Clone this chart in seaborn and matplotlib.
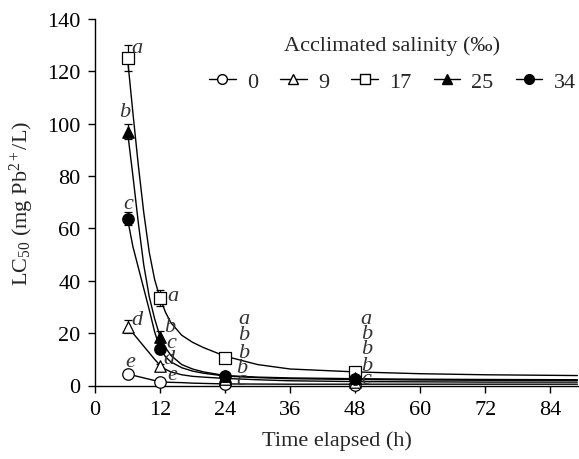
import numpy as np
import pandas as pd
import matplotlib
matplotlib.use("Agg")
import matplotlib.pyplot as plt
from matplotlib.lines import Line2D
import seaborn as sns

# ---------------- data ----------------
salinities = ["0", "9", "17", "25", "34"]
time_h = [6, 12, 24, 48]

lc50_0 = [4.4, 1.4, 0.6, 0.3]
lc50_9 = [22.5, 7.5, 2.5, 1.2]
lc50_17 = [125.0, 33.3, 10.4, 5.3]
lc50_25 = [97.0, 18.7, 3.6, 2.8]
lc50_34 = [63.7, 13.8, 3.5, 2.5]

err_0 = [0.3, 0.2, 0.1, 0.1]
err_9 = [2.5, 0.8, 0.3, 0.2]
err_17 = [5.0, 3.0, 0.8, 0.5]
err_25 = [3.0, 2.0, 0.5, 0.3]
err_34 = [2.5, 1.2, 0.4, 0.3]

# fitted curves
curve_x = [6, 7, 8, 9, 10, 11, 12, 13, 14, 16, 18, 20, 24, 30, 36, 48, 60, 72, 89]
curve_0 = [4.4, 3.9, 3.4, 2.9, 2.4, 1.9, 1.4, 1.3, 1.2, 1.1, 0.9, 0.8, 0.6, 0.55, 0.5, 0.5, 0.5, 0.5, 0.5]
curve_9 = [22.5, 20.0, 17.5, 15.0, 12.5, 10.0, 7.7, 6.2, 5.2, 4.1, 3.5, 3.2, 2.7, 2.2, 1.8, 1.5, 1.4, 1.3, 1.3]
curve_17 = [125.0, 104.0, 84.0, 66.0, 51.0, 40.5, 33.4, 28.0, 24.0, 19.2, 16.5, 14.5, 11.2, 8.0, 6.3, 5.2, 4.5, 4.1, 3.8]
curve_25 = [97.0, 80.0, 62.0, 46.0, 34.0, 25.5, 18.7, 14.5, 11.5, 8.0, 6.3, 5.2, 3.8, 3.2, 2.9, 2.6, 2.4, 2.3, 2.2]
curve_34 = [63.7, 53.0, 45.0, 37.0, 29.0, 20.5, 14.0, 11.0, 9.0, 6.8, 5.5, 4.7, 3.6, 3.0, 2.6, 2.3, 2.1, 2.0, 2.0]

# significance letters
letter_text = ["a", "b", "c", "d", "e",
               "a", "b", "c", "d", "e",
               "a", "b", "b", "b", "c",
               "a", "b", "b", "b", "c"]
letter_x = [7.7, 5.5, 6.1, 7.8, 6.5,
            14.3, 13.8, 14.0, 13.7, 14.2,
            27.4, 27.4, 27.4, 27.0, 27.0,
            50.0, 50.1, 50.1, 50.1, 50.0]
letter_y = [129.0, 104.7, 69.5, 25.2, 9.1,
            34.4, 22.7, 16.5, 10.2, 4.1,
            25.7, 19.3, 12.7, 7.0, 2.2,
            25.5, 19.7, 14.0, 7.6, 2.5]

# ---------------- style ----------------
sns.set_style("ticks")
plt.rcParams["font.family"] = ["Liberation Serif", "DejaVu Serif"]
plt.rcParams["mathtext.fontset"] = "custom"
plt.rcParams["mathtext.rm"] = "Liberation Serif"
plt.rcParams["mathtext.it"] = "Liberation Serif:italic"

points = {"0": (lc50_0, err_0), "9": (lc50_9, err_9), "17": (lc50_17, err_17),
          "25": (lc50_25, err_25), "34": (lc50_34, err_34)}
curves = {"0": curve_0, "9": curve_9, "17": curve_17, "25": curve_25, "34": curve_34}
markers = {"0": "o", "9": "^", "17": "s", "25": "^", "34": "o"}
faces = {"0": "white", "9": "white", "17": "white", "25": "black", "34": "black"}

curve_df = pd.concat([pd.DataFrame({"t": curve_x, "v": curves[s], "sal": s}) for s in salinities])

fig = plt.figure(figsize=(5.79, 4.60), dpi=100)
ax = fig.add_axes([95 / 579, (460 - 386.5) / 460, (579 - 95) / 579, (386.5 - 20) / 460])

sns.lineplot(data=curve_df, x="t", y="v", units="sal", estimator=None, color="black",
             linewidth=1.0, ax=ax, legend=False, zorder=2)

for s in salinities:
    vals, errs = points[s]
    ax.errorbar(time_h, vals, yerr=errs, fmt="none", ecolor="black", elinewidth=0.9,
                capsize=3, capthick=0.9, zorder=3)
    sns.scatterplot(x=time_h, y=vals, marker=markers[s], s=68, color=faces[s],
                    edgecolor="black", linewidth=0.9, ax=ax, zorder=4, clip_on=False)

for t, x, y in zip(letter_text, letter_x, letter_y):
    ax.text(x, y, t, fontsize=16, style="italic", ha="center", va="center",
            color="#333333", zorder=5)

ax.set_xlim(0, 89.3)
ax.set_ylim(0, 140)
ax.set_xticks([0, 12, 24, 36, 48, 60, 72, 84])
ax.set_yticks(np.arange(0, 141, 20))
ax.tick_params(direction="out", length=5, width=1, labelsize=16, colors="black", pad=5.5)
for sp in ["top", "right"]:
    ax.spines[sp].set_visible(False)
for sp in ["left", "bottom"]:
    ax.spines[sp].set_linewidth(1.0)
    ax.spines[sp].set_color("black")

ax.set_xlabel("Time elapsed (h)", fontsize=16, labelpad=8)
ax.set_ylabel(r"LC$_{50}$ (mg Pb$^{2+}$/L)", fontsize=16, labelpad=8)

handles = [Line2D([0], [0], color="black", lw=1.0, marker=markers[s], markerfacecolor=faces[s],
                  markeredgecolor="black", markersize=7) for s in salinities]
leg = ax.legend(handles, salinities, title="Acclimated salinity (‰)", ncol=5, frameon=False,
                fontsize=16, title_fontsize=16, loc="upper left",
                bbox_to_anchor=((209 - 95) / 484, (386.5 - 36) / 366.5),
                handlelength=1.2, columnspacing=1.0, handletextpad=0.5,
                borderaxespad=0, borderpad=0, labelspacing=0.75)

fig.savefig("out.png", dpi=100)
